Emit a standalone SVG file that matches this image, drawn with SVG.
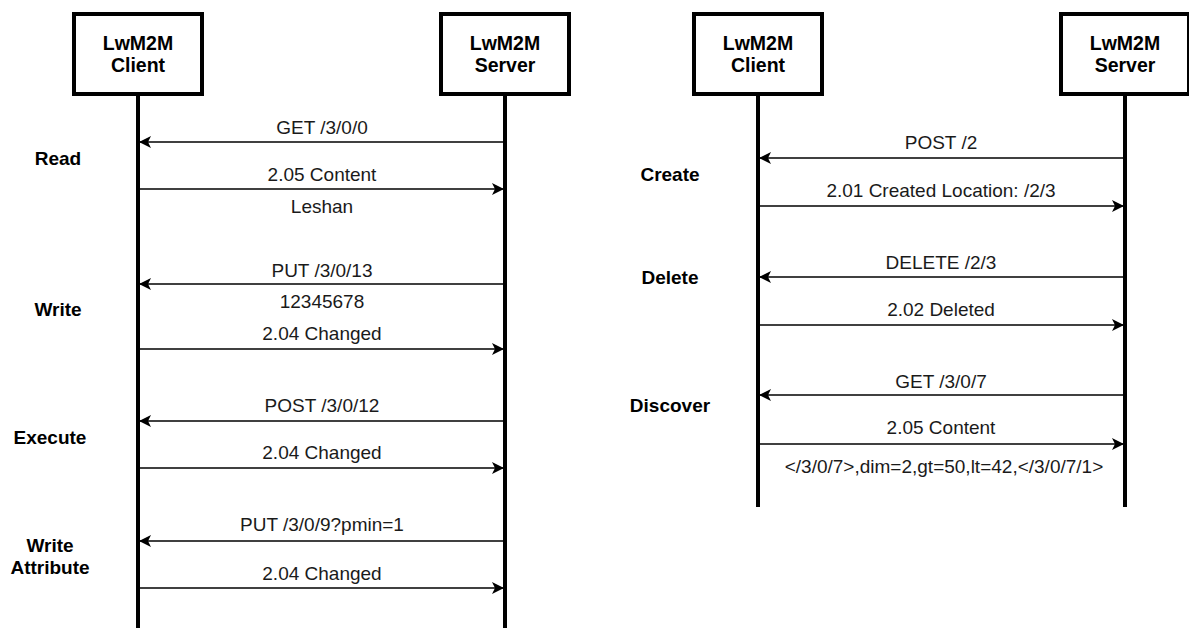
<svg xmlns="http://www.w3.org/2000/svg" width="1189" height="628" viewBox="0 0 1189 628">
  <style>
    .box { fill: #ffffff; stroke: #000000; stroke-width: 4; }
    .life { stroke: #000000; stroke-width: 4; fill: none; }
    .msg { stroke: #000000; stroke-width: 1.5; fill: none; }
    .t { font-family: "Liberation Sans", Arial, sans-serif; font-size: 19px; fill: #1a1a1a; text-anchor: middle; dominant-baseline: central; }
    .b { font-family: "Liberation Sans", Arial, sans-serif; font-size: 19px; font-weight: bold; fill: #000000; text-anchor: middle; dominant-baseline: central; }
    .h { font-size: 19.5px; }
  </style>
  <defs>
    <marker id="arrow" viewBox="0 0 12 12" refX="11" refY="6" markerWidth="12" markerHeight="12" markerUnits="userSpaceOnUse" orient="auto">
      <path d="M0,0 L12,6 L0,12 L3,6 Z" fill="#000000"/>
    </marker>
  </defs>

  <rect width="1189" height="628" fill="#ffffff"/>

  <!-- left sequence: participants -->
  <g id="client-a">
    <line class="life" x1="138" y1="96" x2="138" y2="628"/>
    <rect class="box" x="74" y="14" width="128" height="80"/>
    <text class="b h" x="138" y="43">LwM2M</text>
    <text class="b h" x="138" y="65">Client</text>
  </g>
  <g id="server-a">
    <line class="life" x1="505" y1="96" x2="505" y2="628"/>
    <rect class="box" x="441" y="14" width="128" height="80"/>
    <text class="b h" x="505" y="43">LwM2M</text>
    <text class="b h" x="505" y="65">Server</text>
  </g>

  <!-- right sequence: participants -->
  <g id="client-b">
    <line class="life" x1="758" y1="96" x2="758" y2="507"/>
    <rect class="box" x="694" y="14" width="128" height="80"/>
    <text class="b h" x="758" y="43">LwM2M</text>
    <text class="b h" x="758" y="65">Client</text>
  </g>
  <g id="server-b">
    <line class="life" x1="1125" y1="96" x2="1125" y2="507"/>
    <rect class="box" x="1061" y="14" width="128" height="80"/>
    <text class="b h" x="1125" y="43">LwM2M</text>
    <text class="b h" x="1125" y="65">Server</text>
  </g>

  <!-- operation labels -->
  <g id="operations">
    <text class="b" x="58" y="158">Read</text>
    <text class="b" x="58" y="309">Write</text>
    <text class="b" x="50" y="437">Execute</text>
    <text class="b" x="50" y="545">Write</text>
    <text class="b" x="50" y="567">Attribute</text>
    <text class="b" x="670" y="174">Create</text>
    <text class="b" x="670" y="277">Delete</text>
    <text class="b" x="670" y="405">Discover</text>
  </g>

  <!-- messages -->
  <g id="connectors">
    <line class="msg" x1="503" y1="142" x2="140" y2="142" marker-end="url(#arrow)"/>
    <line class="msg" x1="140" y1="189" x2="503" y2="189" marker-end="url(#arrow)"/>
    <line class="msg" x1="503" y1="284" x2="140" y2="284" marker-end="url(#arrow)"/>
    <line class="msg" x1="140" y1="349" x2="503" y2="349" marker-end="url(#arrow)"/>
    <line class="msg" x1="503" y1="421" x2="140" y2="421" marker-end="url(#arrow)"/>
    <line class="msg" x1="140" y1="468" x2="503" y2="468" marker-end="url(#arrow)"/>
    <line class="msg" x1="503" y1="541" x2="140" y2="541" marker-end="url(#arrow)"/>
    <line class="msg" x1="140" y1="588" x2="503" y2="588" marker-end="url(#arrow)"/>

    <line class="msg" x1="1123" y1="158" x2="760" y2="158" marker-end="url(#arrow)"/>
    <line class="msg" x1="760" y1="206" x2="1123" y2="206" marker-end="url(#arrow)"/>
    <line class="msg" x1="1123" y1="277" x2="760" y2="277" marker-end="url(#arrow)"/>
    <line class="msg" x1="760" y1="325" x2="1123" y2="325" marker-end="url(#arrow)"/>
    <line class="msg" x1="1123" y1="395" x2="760" y2="395" marker-end="url(#arrow)"/>
    <line class="msg" x1="760" y1="444" x2="1123" y2="444" marker-end="url(#arrow)"/>
  </g>

  <!-- message labels -->
  <g id="message-labels">
    <text class="t" x="322" y="127">GET /3/0/0</text>
    <text class="t" x="322" y="174">2.05 Content</text>
    <text class="t" x="322" y="206">Leshan</text>
    <text class="t" x="322" y="270">PUT /3/0/13</text>
    <text class="t" x="322" y="301">12345678</text>
    <text class="t" x="322" y="333">2.04 Changed</text>
    <text class="t" x="322" y="405">POST /3/0/12</text>
    <text class="t" x="322" y="452">2.04 Changed</text>
    <text class="t" x="322" y="524">PUT /3/0/9?pmin=1</text>
    <text class="t" x="322" y="573">2.04 Changed</text>

    <text class="t" x="941" y="142">POST /2</text>
    <text class="t" x="941" y="190">2.01 Created Location: /2/3</text>
    <text class="t" x="941" y="262">DELETE /2/3</text>
    <text class="t" x="941" y="309">2.02 Deleted</text>
    <text class="t" x="941" y="381">GET /3/0/7</text>
    <text class="t" x="941" y="427">2.05 Content</text>
    <text class="t" x="944" y="466">&lt;/3/0/7&gt;,dim=2,gt=50,lt=42,&lt;/3/0/7/1&gt;</text>
  </g>
</svg>
